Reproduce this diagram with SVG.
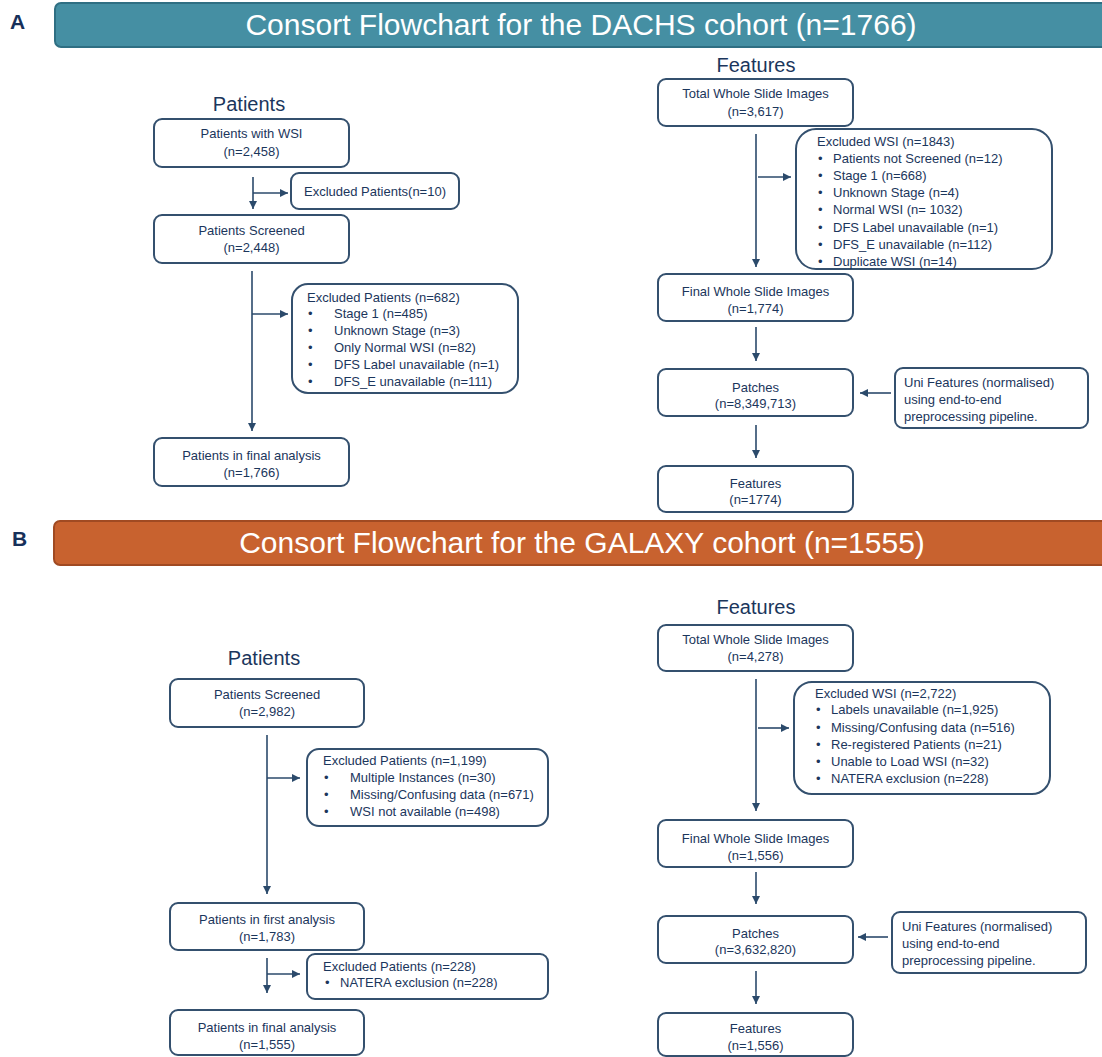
<svg xmlns="http://www.w3.org/2000/svg" width="1102" height="1057" viewBox="0 0 1102 1057">
<style>
.bg{fill:#ffffff}
.box{fill:#ffffff;stroke:#34506e;stroke-width:2}
.t{font-family:"Liberation Sans",Arial,sans-serif;font-size:13px;fill:#1b365c}
.c{text-anchor:middle}
.h{font-family:"Liberation Sans",Arial,sans-serif;font-size:20px;fill:#1b365c;text-anchor:middle}
.title{font-family:"Liberation Sans",Arial,sans-serif;font-size:30px;fill:#ffffff;text-anchor:middle}
.lab{font-family:"Liberation Sans",Arial,sans-serif;font-size:21px;font-weight:bold;fill:#17305a}
.arr{stroke:#2b4a6b;stroke-width:1.6;fill:none;marker-end:url(#ah)}
</style>
<defs>
<marker id="ah" markerUnits="userSpaceOnUse" markerWidth="9" markerHeight="9" refX="8" refY="4" orient="auto">
<path d="M0,0 L8,4 L0,8 z" fill="#2b4a6b"/>
</marker>
</defs>
<rect class="bg" x="0" y="0" width="1102" height="1057"/>

<!-- Section A -->
<g id="labelA"><text class="lab" x="10" y="29">A</text></g>
<g id="bannerA">
<rect x="55" y="3" width="1060" height="44" rx="6" fill="#458fa3" stroke="#2f6f83" stroke-width="2"/>
<text class="title" x="581" y="35">Consort Flowchart for the DACHS cohort (n=1766)</text>
</g>
<g id="headPatientsA"><text class="h" x="249" y="111">Patients</text></g>
<g id="headFeaturesA"><text class="h" x="756" y="72">Features</text></g>

<g id="a_pwsi">
<rect class="box" x="154" y="119" width="195" height="48" rx="8"/>
<text class="t c" x="251.5" y="137.5">Patients with WSI</text>
<text class="t c" x="251.5" y="155.5">(n=2,458)</text>
</g>
<g id="a_excl10">
<rect class="box" x="291" y="173" width="168" height="36" rx="8"/>
<text class="t c" x="375" y="196">Excluded Patients(n=10)</text>
</g>
<g id="a_screened">
<rect class="box" x="154" y="215" width="195" height="48" rx="8"/>
<text class="t c" x="251.5" y="234.5">Patients Screened</text>
<text class="t c" x="251.5" y="251.5">(n=2,448)</text>
</g>
<g id="a_excl682">
<rect class="box" x="292" y="284" width="226" height="109" rx="16"/>
<text class="t" x="307" y="301.5">Excluded Patients (n=682)</text>
<text class="t" x="308" y="318">•</text><text class="t" x="334" y="318">Stage 1 (n=485)</text>
<text class="t" x="308" y="334.5">•</text><text class="t" x="334" y="334.5">Unknown Stage (n=3)</text>
<text class="t" x="308" y="351.5">•</text><text class="t" x="334" y="351.5">Only Normal WSI (n=82)</text>
<text class="t" x="308" y="368.5">•</text><text class="t" x="334" y="368.5">DFS Label unavailable (n=1)</text>
<text class="t" x="308" y="386">•</text><text class="t" x="334" y="386">DFS_E unavailable (n=111)</text>
</g>
<g id="a_final">
<rect class="box" x="154" y="438" width="195" height="48" rx="8"/>
<text class="t c" x="251.5" y="459.5">Patients in final analysis</text>
<text class="t c" x="251.5" y="476.5">(n=1,766)</text>
</g>

<g id="a_twsi">
<rect class="box" x="658" y="79" width="195" height="47" rx="8"/>
<text class="t c" x="755.5" y="97.5">Total Whole Slide Images</text>
<text class="t c" x="755.5" y="115.5">(n=3,617)</text>
</g>
<g id="a_exclwsi">
<rect class="box" x="796" y="129" width="256" height="140" rx="20"/>
<text class="t" x="817" y="145.5">Excluded WSI (n=1843)</text>
<text class="t" x="818" y="162.5">•</text><text class="t" x="833" y="162.5">Patients not Screened (n=12)</text>
<text class="t" x="818" y="179.5">•</text><text class="t" x="833" y="179.5">Stage 1 (n=668)</text>
<text class="t" x="818" y="196.5">•</text><text class="t" x="833" y="196.5">Unknown Stage (n=4)</text>
<text class="t" x="818" y="213.5">•</text><text class="t" x="833" y="213.5">Normal WSI (n= 1032)</text>
<text class="t" x="818" y="231.5">•</text><text class="t" x="833" y="231.5">DFS Label unavailable (n=1)</text>
<text class="t" x="818" y="248.5">•</text><text class="t" x="833" y="248.5">DFS_E unavailable (n=112)</text>
<text class="t" x="818" y="265.5">•</text><text class="t" x="833" y="265.5">Duplicate WSI (n=14)</text>
</g>
<g id="a_fwsi">
<rect class="box" x="658" y="274" width="195" height="47" rx="8"/>
<text class="t c" x="755.5" y="295.5">Final Whole Slide Images</text>
<text class="t c" x="755.5" y="312.5">(n=1,774)</text>
</g>
<g id="a_patches">
<rect class="box" x="658" y="369" width="195" height="47" rx="8"/>
<text class="t c" x="755.5" y="391.5">Patches</text>
<text class="t c" x="755.5" y="407.5">(n=8,349,713)</text>
</g>
<g id="a_uni">
<rect class="box" x="895" y="368" width="193" height="60" rx="8"/>
<text class="t" x="904" y="386.5">Uni Features (normalised)</text>
<text class="t" x="904" y="403.5">using end-to-end</text>
<text class="t" x="904" y="420.5">preprocessing pipeline.</text>
</g>
<g id="a_features">
<rect class="box" x="658" y="466" width="195" height="46" rx="8"/>
<text class="t c" x="755.5" y="487.5">Features</text>
<text class="t c" x="755.5" y="503.5">(n=1774)</text>
</g>

<!-- Section B -->
<g id="labelB"><text class="lab" x="12" y="546">B</text></g>
<g id="bannerB">
<rect x="54" y="521" width="1060" height="44" rx="6" fill="#c8622f" stroke="#a04a22" stroke-width="2"/>
<text class="title" x="582" y="553">Consort Flowchart for the GALAXY cohort (n=1555)</text>
</g>
<g id="headPatientsB"><text class="h" x="264" y="665">Patients</text></g>
<g id="headFeaturesB"><text class="h" x="756" y="614">Features</text></g>

<g id="b_screened">
<rect class="box" x="170" y="679" width="194" height="48" rx="8"/>
<text class="t c" x="267" y="698.5">Patients Screened</text>
<text class="t c" x="267" y="715.5">(n=2,982)</text>
</g>
<g id="b_excl1199">
<rect class="box" x="307" y="749" width="241" height="77" rx="12"/>
<text class="t" x="323" y="764.5">Excluded Patients (n=1,199)</text>
<text class="t" x="324" y="781.5">•</text><text class="t" x="350" y="781.5">Multiple Instances (n=30)</text>
<text class="t" x="324" y="798.5">•</text><text class="t" x="350" y="798.5">Missing/Confusing data (n=671)</text>
<text class="t" x="324" y="815.5">•</text><text class="t" x="350" y="815.5">WSI not available (n=498)</text>
</g>
<g id="b_first">
<rect class="box" x="170" y="903" width="194" height="47" rx="8"/>
<text class="t c" x="267" y="923.5">Patients in first analysis</text>
<text class="t c" x="267" y="940.5">(n=1,783)</text>
</g>
<g id="b_excl228">
<rect class="box" x="307" y="954" width="241" height="45" rx="8"/>
<text class="t" x="323" y="970.5">Excluded Patients (n=228)</text>
<text class="t" x="325" y="986.5">•</text><text class="t" x="340" y="986.5">NATERA exclusion (n=228)</text>
</g>
<g id="b_final">
<rect class="box" x="170" y="1010" width="194" height="45" rx="8"/>
<text class="t c" x="267" y="1031.5">Patients in final analysis</text>
<text class="t c" x="267" y="1048.5">(n=1,555)</text>
</g>

<g id="b_twsi">
<rect class="box" x="658" y="625" width="195" height="46" rx="8"/>
<text class="t c" x="755.5" y="643.5">Total Whole Slide Images</text>
<text class="t c" x="755.5" y="660.5">(n=4,278)</text>
</g>
<g id="b_exclwsi">
<rect class="box" x="794" y="682" width="256" height="112" rx="18"/>
<text class="t" x="815" y="697.5">Excluded WSI (n=2,722)</text>
<text class="t" x="816" y="713.5">•</text><text class="t" x="831" y="713.5">Labels unavailable (n=1,925)</text>
<text class="t" x="816" y="731.5">•</text><text class="t" x="831" y="731.5">Missing/Confusing data (n=516)</text>
<text class="t" x="816" y="748.5">•</text><text class="t" x="831" y="748.5">Re-registered Patients (n=21)</text>
<text class="t" x="816" y="765.5">•</text><text class="t" x="831" y="765.5">Unable to Load WSI (n=32)</text>
<text class="t" x="816" y="782.5">•</text><text class="t" x="831" y="782.5">NATERA exclusion (n=228)</text>
</g>
<g id="b_fwsi">
<rect class="box" x="658" y="820" width="195" height="47" rx="8"/>
<text class="t c" x="755.5" y="842.5">Final Whole Slide Images</text>
<text class="t c" x="755.5" y="859.5">(n=1,556)</text>
</g>
<g id="b_patches">
<rect class="box" x="658" y="916" width="195" height="47" rx="8"/>
<text class="t c" x="755.5" y="937.5">Patches</text>
<text class="t c" x="755.5" y="953.5">(n=3,632,820)</text>
</g>
<g id="b_uni">
<rect class="box" x="892" y="912" width="194" height="61" rx="8"/>
<text class="t" x="902" y="930.5">Uni Features (normalised)</text>
<text class="t" x="902" y="947.5">using end-to-end</text>
<text class="t" x="902" y="964.5">preprocessing pipeline.</text>
</g>
<g id="b_features">
<rect class="box" x="658" y="1013" width="195" height="43" rx="8"/>
<text class="t c" x="755.5" y="1032.5">Features</text>
<text class="t c" x="755.5" y="1049.5">(n=1,556)</text>
</g>

<g id="connectors">
<line class="arr" x1="253" y1="177" x2="253" y2="209"/>
<line class="arr" x1="253" y1="193" x2="288" y2="193"/>
<line class="arr" x1="252" y1="271" x2="252" y2="431"/>
<line class="arr" x1="252" y1="314" x2="288" y2="314"/>
<line class="arr" x1="756" y1="134" x2="756" y2="267"/>
<line class="arr" x1="758" y1="177" x2="791" y2="177"/>
<line class="arr" x1="756" y1="327" x2="756" y2="361"/>
<line class="arr" x1="891" y1="393" x2="860" y2="393"/>
<line class="arr" x1="756" y1="425" x2="756" y2="458"/>
<line class="arr" x1="267" y1="735" x2="267" y2="894"/>
<line class="arr" x1="267" y1="778" x2="300" y2="778"/>
<line class="arr" x1="267" y1="958" x2="267" y2="993"/>
<line class="arr" x1="267" y1="974" x2="300" y2="974"/>
<line class="arr" x1="756" y1="679" x2="756" y2="811"/>
<line class="arr" x1="758" y1="728" x2="789" y2="728"/>
<line class="arr" x1="756" y1="872" x2="756" y2="904"/>
<line class="arr" x1="888" y1="937" x2="858" y2="937"/>
<line class="arr" x1="756" y1="971" x2="756" y2="1004"/>
</g>
</svg>
